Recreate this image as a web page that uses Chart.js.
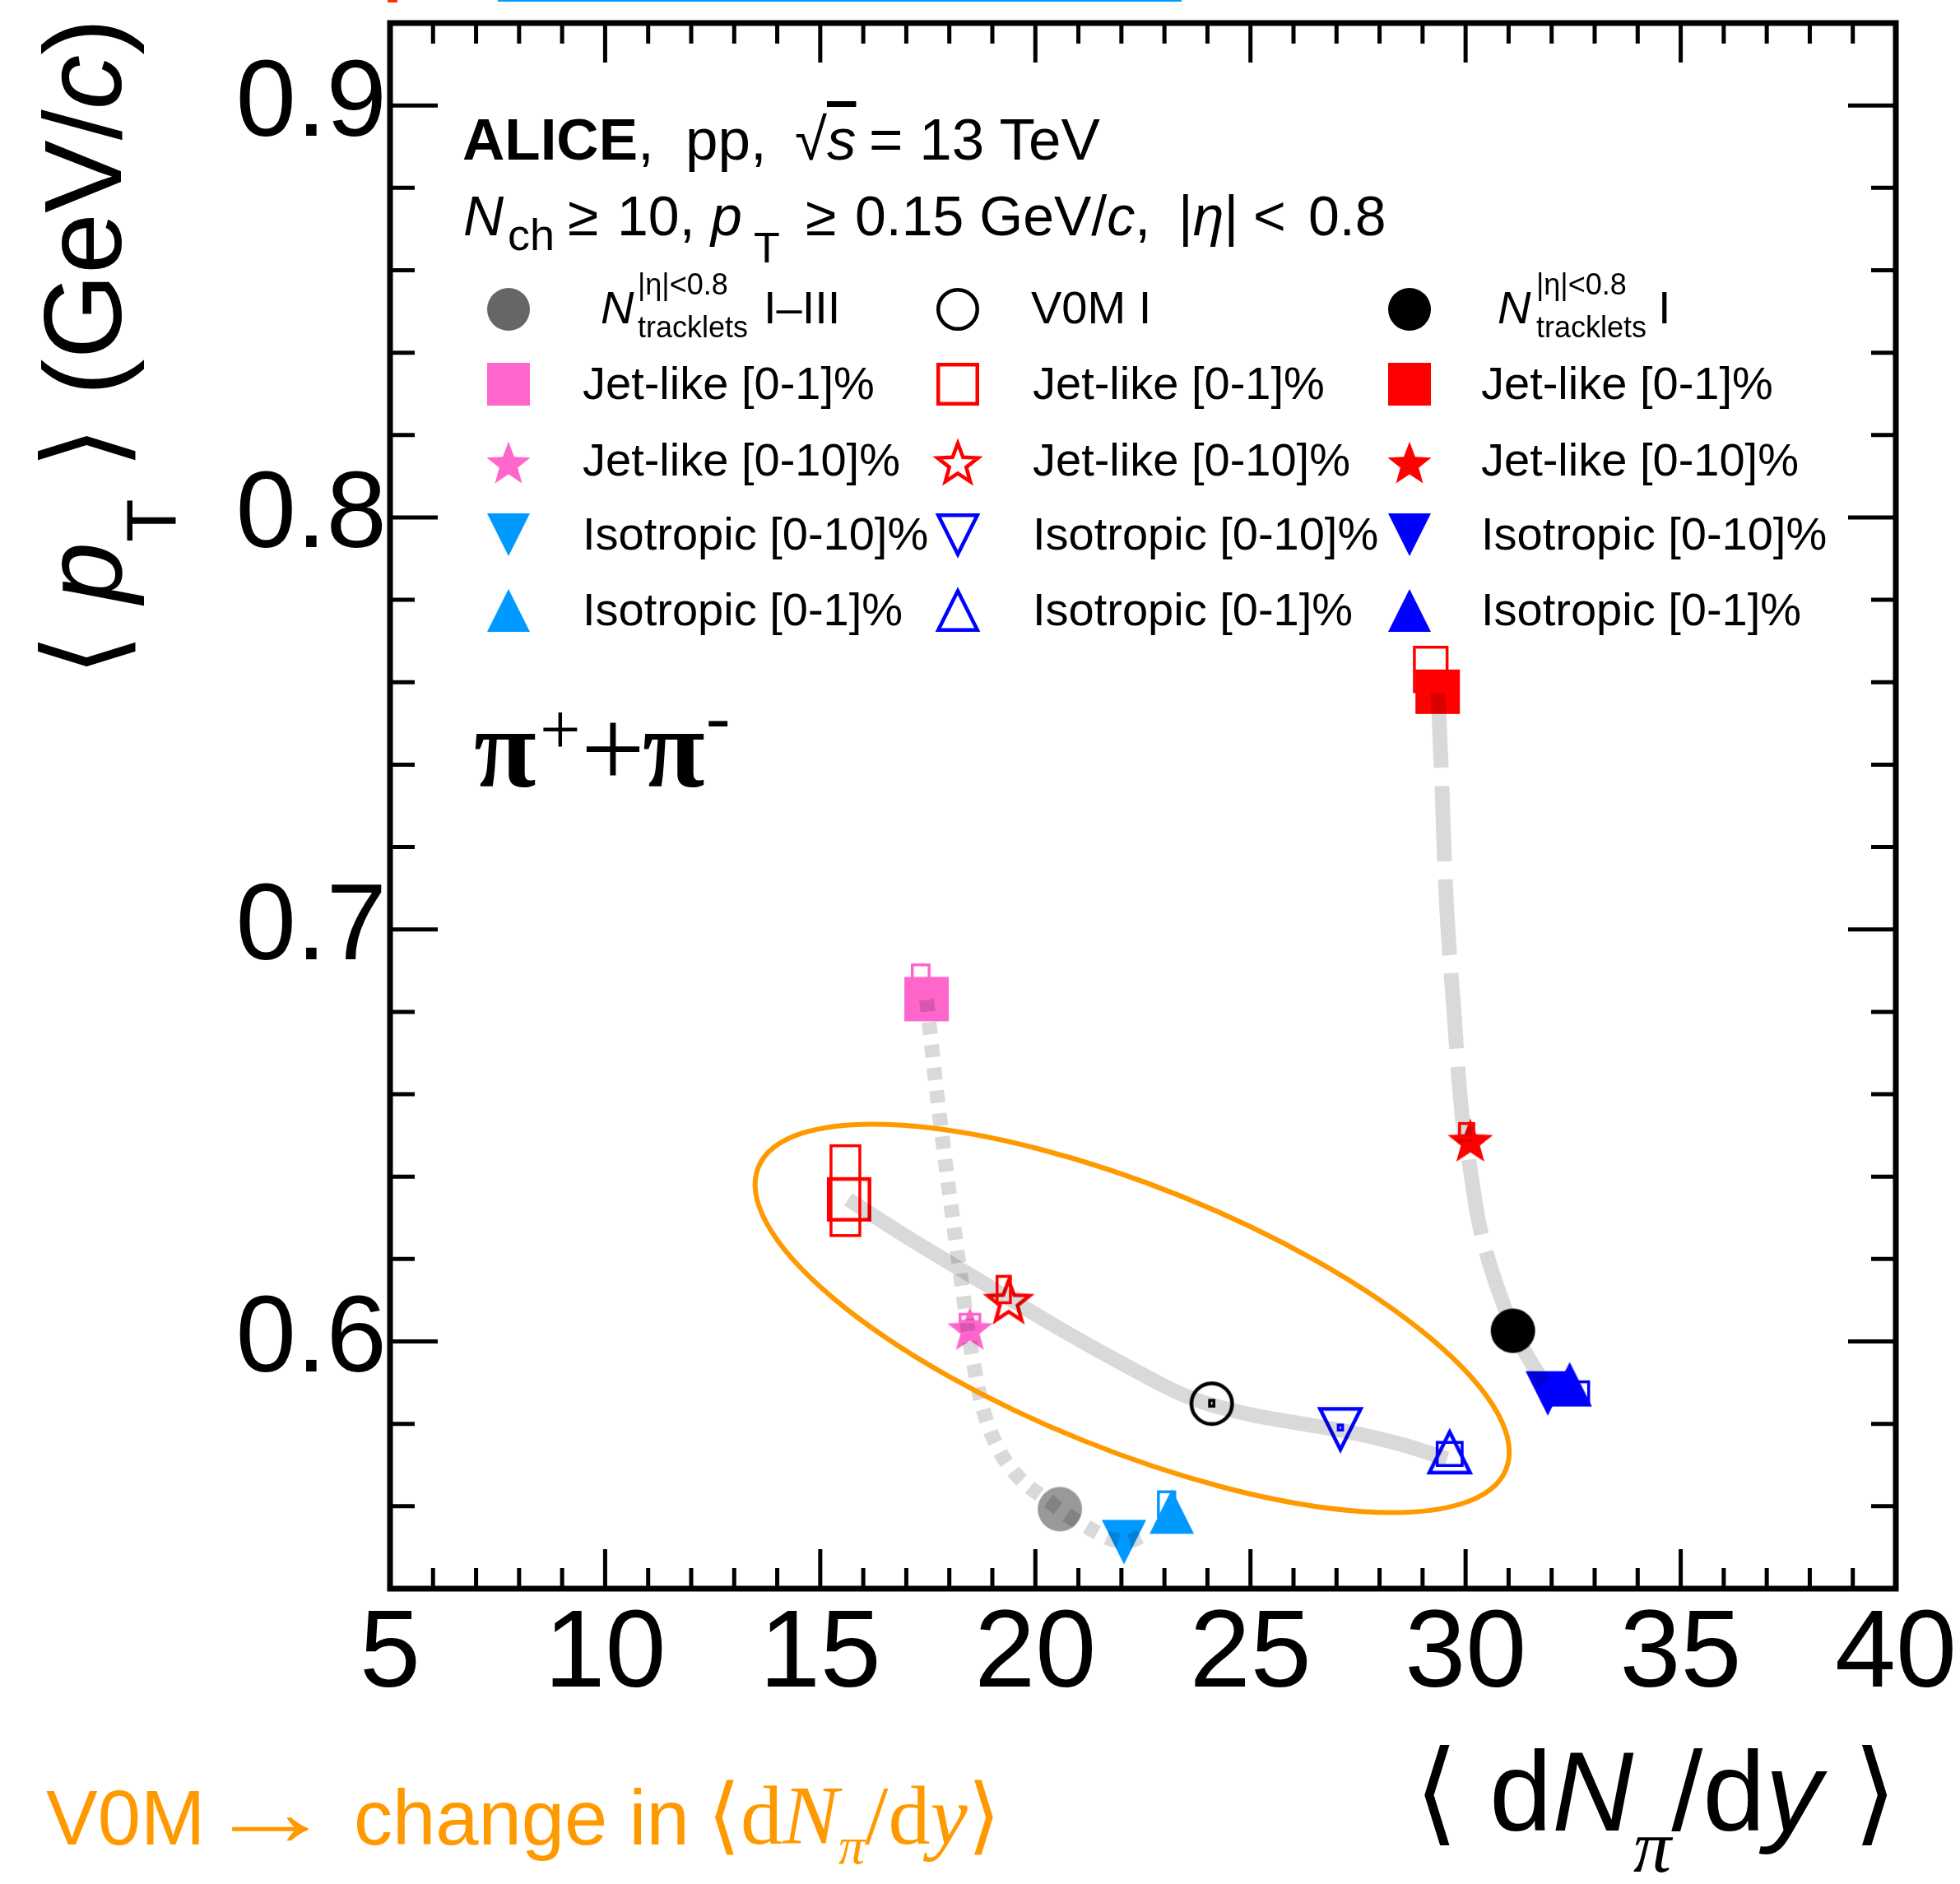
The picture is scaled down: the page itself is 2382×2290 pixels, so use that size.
<!DOCTYPE html>
<html>
<head>
<meta charset="utf-8">
<title>ALICE &lt;pT&gt; vs &lt;dN/dy&gt;</title>
<script src="https://cdn.jsdelivr.net/npm/chart.js@4.4.1/dist/chart.umd.min.js"></script>
<style>
  html, body { margin: 0; padding: 0; background: #fff; }
  #wrap { position: relative; width: 2382px; height: 2290px; overflow: hidden;
          font-family: 'Liberation Sans', Arial, sans-serif; color: #000; }
  #plot { position: absolute; left: 0; top: 0; }
  .t { position: absolute; white-space: nowrap; line-height: 1; }
  .serif { font-family: 'Liberation Serif', 'Times New Roman', serif; }
  .orange { color: #ff9900; }
</style>
</head>
<body>
<div id="wrap">
  <canvas id="plot" width="2382" height="2290" style="width:2382px;height:2290px"></canvas>
</div>
<script>
// --- Data ---
const xTicks = [5, 10, 15, 20, 25, 30, 35, 40];
const yTicks = [0.6, 0.7, 0.8, 0.9];
const selections = ['All', 'Jet-like [0-1]%', 'Jet-like [0-10]%', 'Isotropic [0-10]%', 'Isotropic [0-1]%'];

// N_tracklets I–III
const trk13X = [20.57, 17.47, 18.48, 22.06, 23.17];
const trk13Y = [0.5593, 0.6831, 0.6032, 0.5513, 0.5587];
// V0M I
const v0mX = [24.10, 15.67, 19.38, 27.09, 29.63];
const v0mY = [0.5849, 0.6345, 0.6100, 0.5787, 0.5731];
// N_tracklets I
const trk1X = [31.10, 29.35, 30.11, 31.91, 32.42];
const trk1Y = [0.6026, 0.7577, 0.6489, 0.5874, 0.5896];

// systematic boxes [xLow, xHigh, yLow, yHigh]
const trk13Sys = [null, [17.14, 17.53, 0.6832, 0.6914], [18.25, 18.71, 0.6048, 0.6066], null, [22.86, 23.24, 0.5575, 0.5635]];
const v0mSys = [[24.05, 24.15, 0.5843, 0.5857], [15.25, 15.92, 0.6257, 0.6475], [19.11, 19.42, 0.6094, 0.6158],
                [27.04, 27.14, 0.5785, 0.5797], [29.34, 29.92, 0.5699, 0.5755]];
const trk1Sys = [null, [28.81, 29.57, 0.7577, 0.7685], [29.86, 30.19, 0.6495, 0.6529], null, [32.39, 32.86, 0.5848, 0.5902]];

// grey guide curves
const dottedX = [17.47, 17.78, 18.25, 18.60, 18.96, 19.52, 20.30, 21.16, 22.02, 22.61];
const dottedY = [0.6831, 0.6542, 0.6169, 0.5926, 0.5781, 0.5681, 0.5613, 0.5552, 0.5514, 0.5534];
const solidX = [15.65, 16.90, 18.71, 20.55, 22.38, 23.59, 24.81, 26.04, 27.26, 28.48, 29.57];
const solidY = [0.6345, 0.6261, 0.6147, 0.6032, 0.5926, 0.5864, 0.5827, 0.5803, 0.5781, 0.5751, 0.5715];
const dashedX = [29.36, 29.44, 29.56, 29.73, 29.92, 30.11, 30.30, 30.55, 30.93, 31.31, 31.83];
const dashedY = [0.7576, 0.7373, 0.7054, 0.6801, 0.6546, 0.6418, 0.6293, 0.6191, 0.6076, 0.5988, 0.5898];

// centre of the orange V0M ellipse
const ellipseCenter = [22.25, 0.6056];

// --- Styling ---
const FONT = "'Liberation Sans', Arial, sans-serif";
const shapes = ['circle', 'square', 'star', 'triDown', 'triUp'];
const markerSize = { circle: 54, square: 54, star: 58, triDown: 54, triUp: 54 };
const families = [
    { name: 'N_tracklets I-III', x: trk13X, y: trk13Y, sys: trk13Sys, filled: true,
      colors: ['#999999', '#ff66cc', '#ff66cc', '#0099ff', '#0099ff'],
      legendColors: ['#666666', '#ff66cc', '#ff66cc', '#0099ff', '#0099ff'] },
    { name: 'V0M I', x: v0mX, y: v0mY, sys: v0mSys, filled: false,
      colors: ['#000000', '#ff0000', '#ff0000', '#0000ff', '#0000ff'] },
    { name: 'N_tracklets I', x: trk1X, y: trk1Y, sys: trk1Sys, filled: true,
      colors: ['#000000', '#ff0000', '#ff0000', '#0000ff', '#0000ff'] }
];

function makeMarker(shape, color, filled, size) {
    const lw = 4.5, pad = 6;
    const c = document.createElement('canvas');
    c.width = c.height = Math.round(size + 2 * pad);
    const g = c.getContext('2d');
    const m = c.width / 2;
    const r = filled ? size / 2 : size / 2 - lw / 2;
    g.beginPath();
    if (shape === 'circle') {
        g.arc(m, m, r, 0, Math.PI * 2);
    } else if (shape === 'square') {
        g.rect(m - r, m - r, 2 * r, 2 * r);
    } else if (shape === 'triUp') {
        g.moveTo(m, m - r); g.lineTo(m + r, m + r); g.lineTo(m - r, m + r);
    } else if (shape === 'triDown') {
        g.moveTo(m, m + r); g.lineTo(m + r, m - r); g.lineTo(m - r, m - r);
    } else {
        // five-pointed star
        for (let k = 0; k < 10; k++) {
            const a = -Math.PI / 2 + k * Math.PI / 5;
            const rr = k % 2 ? r * 0.42 : r;
            g.lineTo(m + rr * Math.cos(a), m + rr * Math.sin(a) + r * 0.1);
        }
    }
    g.closePath();
    if (filled) { g.fillStyle = color; g.fill(); }
    else { g.strokeStyle = color; g.lineWidth = lw; g.stroke(); }
    return c;
}

// --- Datasets ---
const datasets = [];
families.forEach(f => {
    shapes.forEach((shape, i) => {
        datasets.push({
            label: f.name + ' ' + selections[i],
            data: [{ x: f.x[i], y: f.y[i] }],
            pointStyle: makeMarker(shape, f.colors[i], f.filled, markerSize[shape]),
            pointRadius: 27,
            order: 1
        });
    });
});
[[dottedX, dottedY, [15, 13]], [solidX, solidY, []], [dashedX, dashedY, [92, 22]]].forEach(([xs, ys, dash]) => {
    datasets.push({
        data: xs.map((x, i) => ({ x: x, y: ys[i] })),
        showLine: true,
        borderColor: 'rgba(0,0,0,0.15)',
        borderWidth: 18,
        borderDash: dash,
        borderCapStyle: 'butt',
        tension: 0.4,
        pointRadius: 0,
        fill: false,
        order: 0
    });
});

// legend marker images (ROOT style 3 x 5 grid)
const legendCols = [618, 1164, 1713];
const legendRows = [376, 467, 562, 650, 742];
const legendMarkers = families.map(f => shapes.map((s, i) =>
    makeMarker(s, (f.legendColors || f.colors)[i], f.filled, markerSize[s] - 2)));

// --- Frame, inward ticks, syst boxes, ellipse, legend markers ---
const rootStyle = {
    id: 'rootStyle',
    afterDatasetsDraw(chart) {
        const ctx = chart.ctx;
        const xs = chart.scales.x, ys = chart.scales.y;
        const { left, right, top, bottom } = chart.chartArea;
        ctx.save();

        // systematic uncertainty boxes
        ctx.lineWidth = 3.5;
        families.forEach(f => {
            f.sys.forEach((b, i) => {
                if (!b) return;
                const x0 = xs.getPixelForValue(b[0]), x1 = xs.getPixelForValue(b[1]);
                const y0 = ys.getPixelForValue(b[2]), y1 = ys.getPixelForValue(b[3]);
                ctx.strokeStyle = f.colors[i];
                ctx.strokeRect(x0, y1, x1 - x0, y0 - y1);
            });
        });

        // orange ellipse around the V0M points
        ctx.beginPath();
        ctx.ellipse(xs.getPixelForValue(ellipseCenter[0]), ys.getPixelForValue(ellipseCenter[1]),
                    490, 160, 22 * Math.PI / 180, 0, Math.PI * 2);
        ctx.strokeStyle = '#ff9900';
        ctx.lineWidth = 6;
        ctx.stroke();

        // ticks on all four sides, pointing inwards
        ctx.strokeStyle = '#000';
        ctx.lineWidth = 5;
        ctx.beginPath();
        for (let v = xs.min; v <= xs.max + 1e-6; v += 1) {
            const px = xs.getPixelForValue(v);
            const len = xTicks.some(t => Math.abs(t - v) < 1e-6) ? 48 : 25;
            ctx.moveTo(px, bottom); ctx.lineTo(px, bottom - len);
            ctx.moveTo(px, top); ctx.lineTo(px, top + len);
        }
        for (let v = ys.min; v <= ys.max + 1e-6; v += 0.02) {
            const py = ys.getPixelForValue(v);
            const len = yTicks.some(t => Math.abs(t - v) < 1e-6) ? 58 : 30;
            ctx.moveTo(left, py); ctx.lineTo(left + len, py);
            ctx.moveTo(right, py); ctx.lineTo(right - len, py);
        }
        ctx.stroke();

        // frame
        ctx.lineWidth = 7;
        ctx.strokeRect(left, top, right - left, bottom - top);

        // legend markers
        legendMarkers.forEach((col, c) => col.forEach((img, r) => {
            ctx.drawImage(img, legendCols[c] - img.width / 2, legendRows[r] - img.height / 2);
        }));
        ctx.restore();
    }
};

new Chart(document.getElementById('plot'), {
    type: 'scatter',
    data: { datasets },
    options: {
        responsive: false,
        animation: false,
        devicePixelRatio: 1,
        layout: { padding: { left: 0, right: 78, top: 27, bottom: 159 } },
        plugins: { legend: { display: false }, tooltip: { enabled: false } },
        scales: {
            x: {
                type: 'linear', min: 5, max: 40,
                afterBuildTicks: s => { s.ticks = xTicks.map(v => ({ value: v })); },
                afterFit: s => { s.height = 200; s.paddingLeft = 0; s.paddingRight = 0; },
                grid: { display: false, drawTicks: false },
                border: { display: false },
                ticks: { padding: 3, autoSkip: false, maxRotation: 0, color: '#000',
                         font: { family: FONT, size: 133 } }
            },
            y: {
                type: 'linear', min: 0.54, max: 0.92,
                afterBuildTicks: s => { s.ticks = yTicks.map(v => ({ value: v })); },
                afterFit: s => { s.width = 474; s.paddingTop = 0; s.paddingBottom = 0; },
                grid: { display: false, drawTicks: false },
                border: { display: false },
                ticks: { padding: 4, autoSkip: false, color: '#000', callback: v => v.toFixed(1),
                         font: { family: FONT, size: 132 } }
            }
        }
    },
    plugins: [rootStyle]
});

// --- Text overlays (positioned by baseline) ---
const wrap = document.getElementById('wrap');
function txt(html, x, base, size, cls) {
    const d = document.createElement('div');
    d.className = 't' + (cls ? ' ' + cls : '');
    d.style.left = x + 'px';
    d.style.top = (base - 0.845 * size) + 'px';
    d.style.fontSize = size + 'px';
    d.innerHTML = html;
    wrap.appendChild(d);
    return d;
}

// header
txt('<b>ALICE</b>,', 562, 194, 71);
txt('pp,', 833, 194, 71);
txt('√<span style="text-decoration:overline"><i>s</i></span>', 966, 194, 71);
txt('= 13 TeV', 1056, 194, 71);
txt('<i>N</i>', 563, 285, 68);
txt('ch', 617, 304, 54);
txt('≥', 690, 285, 68);
txt('10,', 750, 285, 68);
txt('<i>p</i>', 864, 285, 68);
txt('T', 916, 319, 52);
txt('≥', 979, 285, 68);
txt('0.15 GeV/<i>c</i>,', 1039, 285, 68);
txt('|<i>η</i>|', 1432, 285, 68);
txt('&lt;', 1523, 285, 68);
txt('0.8', 1590, 285, 68);

// legend labels
const legendBase = [393, 485, 578, 668, 760];
const legendTextX = [708, 1255, 1800];
txt('<i>N</i>', 730, 393, 56);
txt('|η|&lt;0.8', 775, 358, 36);
txt('tracklets', 775, 410, 36);
txt('I–III', 928, 393, 56);
txt('V0M I', 1253, 393, 56);
txt('<i>N</i>', 1820, 393, 56);
txt('|η|&lt;0.8', 1867, 358, 36);
txt('tracklets', 1867, 410, 36);
txt('I', 2015, 393, 56);
legendTextX.forEach(x => {
    for (let r = 1; r < selections.length; r++) txt(selections[r], x, legendBase[r], 56);
});

// particle label
txt('<b>π</b>', 576, 958, 138, 'serif');
txt('+', 656, 917, 88, 'serif');
txt('+', 706, 958, 138, 'serif');
txt('<b>π</b>', 781, 958, 138, 'serif');
txt('-', 858, 902, 88, 'serif');

// y axis title (rotated)
const yTitle = txt('⟨&nbsp;<i>p</i><span style="font-size:86px;position:relative;top:66px">T</span>&nbsp;⟩ (GeV/<i>c</i>)', 35, 0, 133);
yTitle.style.top = '822px';
yTitle.style.transformOrigin = '0 0';
yTitle.style.transform = 'rotate(-90deg)';

// x axis title (right aligned)
const xTitle = txt('⟨&nbsp;d<i>N</i><span class="serif" style="font-style:italic;font-size:92px;position:relative;top:50px">π</span>/d<i>y</i>&nbsp;⟩',
                   0, 2225, 137);
xTitle.style.left = 'auto';
xTitle.style.right = '77px';

// orange note
txt('V0M', 56, 2242, 94, 'orange');
const arrow = txt('<b>→</b>', 250, 2242, 120, 'orange');
arrow.style.transformOrigin = '0 0';
arrow.style.transform = 'scaleX(1.3)';
txt('change in', 430, 2242, 94, 'orange');
txt('⟨d<i>N</i><span style="font-style:italic;font-size:64px;position:relative;top:24px">π</span>/d<i>y</i>⟩', 860, 2242, 102, 'orange serif');

// remnants of the panel above, cut at the top edge
const red = document.createElement('div');
red.style.cssText = 'position:absolute;left:471px;top:0;width:12px;height:3px;background:#ff3300;';
wrap.appendChild(red);
const blue = document.createElement('div');
blue.style.cssText = 'position:absolute;left:605px;top:0;width:831px;height:2px;background:#0099ff;';
wrap.appendChild(blue);
</script>
</body>
</html>
